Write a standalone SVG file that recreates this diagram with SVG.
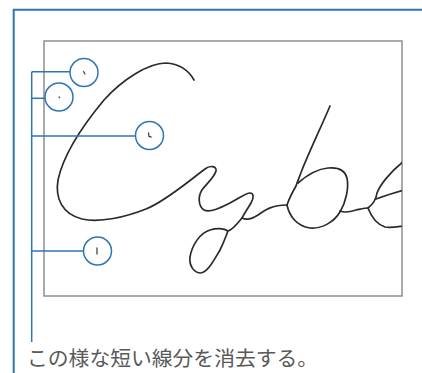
<svg xmlns="http://www.w3.org/2000/svg" width="422" height="373" viewBox="0 0 422 373">
<style>
.frame{fill:none;stroke:#2e75b6;stroke-width:2}
.br{fill:none;stroke:#2e75b6;stroke-width:1.5}
.ring{fill:#fff;fill-opacity:0;stroke:#2e75b6;stroke-width:1.5}
.ink{fill:none;stroke:#2a2a2a;stroke-width:1.7;stroke-linecap:round;stroke-linejoin:round}
.mark{fill:none;stroke:#444;stroke-width:1.3;stroke-linecap:round}
.lbl{font-family:"Noto Sans CJK JP","Noto Sans",sans-serif;font-size:20.8px;fill:#595959}
</style>
<defs>
<clipPath id="clipImg"><rect x="44" y="41" width="358" height="255"/></clipPath>
</defs>
<rect width="422" height="373" fill="#fff"/>
<g id="frame">
<path class="frame" d="M13.7,373 V9.7 H422"/>
</g>
<g id="signature-image">
<rect x="44" y="41" width="358" height="255" fill="#fff" stroke="#8f8f8f" stroke-width="1.5"/>
<g clip-path="url(#clipImg)">
<path class="ink" d="M194,80 C189,71 180,64 166,63 C148,63 122,80 104,100 C84,124 64,152 58,180 C55,198 62,214 82,219 C100,223 126,217 146,209 C166,201 190,180 205,169 C210,165 217,166 216,171 C214,178 206,184 202,190 C198,196 198,206 204,210 C210,213 220,208 230,203 C238,199 246,193 250,193 C254,193 254,198 251,203 C248,208 244,214 242,218 C246,220 252,219 258,215 C265,210 272,205 287,205"/>
<path class="ink" d="M242,218 C238,223 232,230 228,231 C224,228 216,228 210,230 C200,233 192,245 190,257 C189,266 194,273 201,273 C208,272 214,260 220,250 C224,242 226,236 228,231"/>
<path class="ink" d="M330,106 C322,125 310,150 302,170 C299,178 297,183 296,186 C292,193 289,199 287,205"/>
<path class="ink" d="M287,205 C289,215 296,226 310,228 C322,229 334,222 340,212 C346,202 349,188 347,178 C345,170 338,167 328,168 C316,169 306,176 298,183"/>
<path class="ink" d="M340,211 C345,213 350,212 356,210 C361,209 365,208 368,208"/>
<path class="ink" d="M368,208 C372,205 376,200 377,193 C380,185 390,172 404,161"/>
<path class="ink" d="M376,199 C384,196 392,193 404,190"/>
<path class="ink" d="M368,208 C371,216 376,224 385,227 C391,228 396,227 404,226"/>
<path class="mark" d="M83.5,71.5 L85,74"/>
<path class="mark" d="M59,97 L59.6,97.6"/>
<path class="mark" d="M148.5,133 L149,136.5 L151,137"/>
<path class="mark" d="M97,248 V254"/>
</g>
</g>
<g id="connectors">
<path class="br" d="M31.7,71.7 V342"/>
<path class="br" d="M31.7,71.7 H70"/>
<path class="br" d="M31.7,98.3 H45"/>
<path class="br" d="M31.7,136 H135"/>
<path class="br" d="M31.7,251 H83"/>
</g>
<g id="circle-1"><circle class="ring" cx="84" cy="72.5" r="14"/></g>
<g id="circle-2"><circle class="ring" cx="59" cy="97" r="14"/></g>
<g id="circle-3"><circle class="ring" cx="149.5" cy="135.5" r="14"/></g>
<g id="circle-4"><circle class="ring" cx="97.5" cy="251" r="14"/></g>
<g id="label">
<text class="lbl" x="27" y="366">この様な短い線分を消去する。</text>
</g>
</svg>
